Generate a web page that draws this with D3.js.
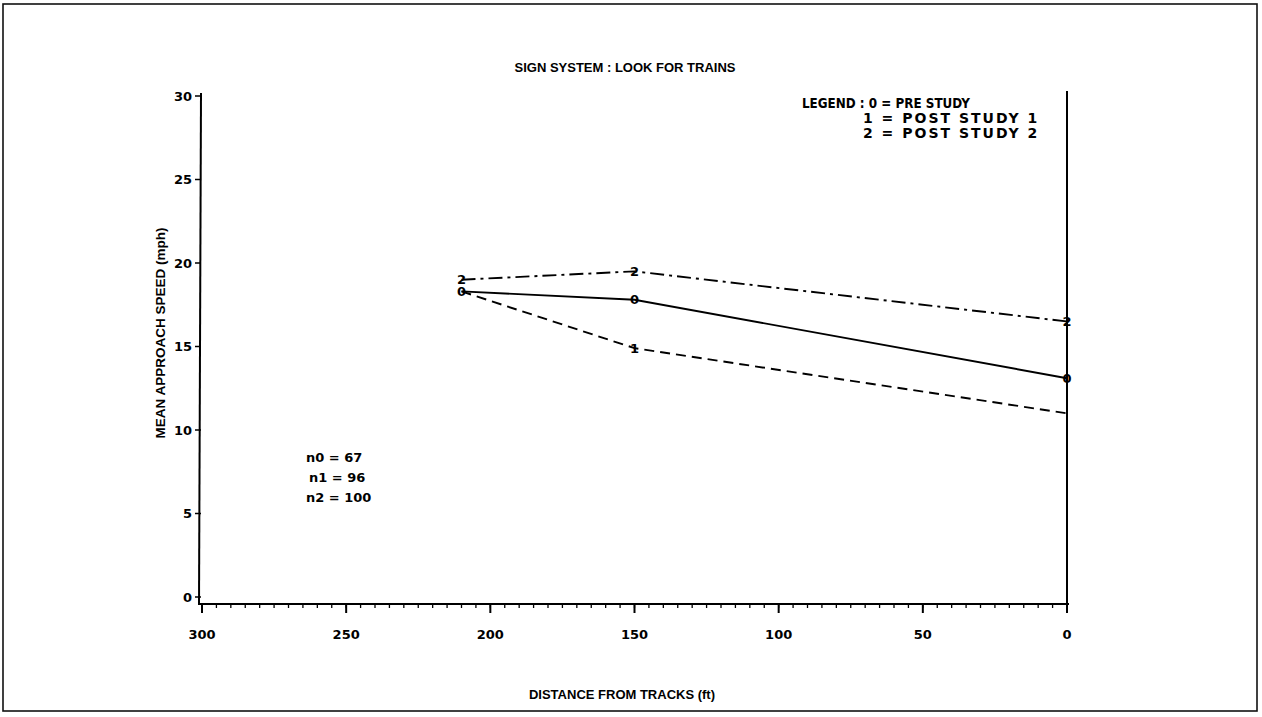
<!DOCTYPE html>
<meta charset="utf-8">
<style>
    body { margin: 0; background: #fff; }
    svg { display: block; }
    .sans { font-family: 'Liberation Sans', Arial, sans-serif; font-weight: bold; }
    .wide { font-family: 'DejaVu Sans', 'Liberation Sans', sans-serif; font-weight: bold; }
</style>
<body>
<svg width="1262" height="717" id="chart"></svg>
<script src="https://d3js.org/d3.v7.min.js"></script>
<script>

    // distances (ft) and mean approach speeds (mph) for each study
    var distances = [210, 150, 0];
    var preStudy = [18.3, 17.8, 13.1];    // 0
    var postStudy1 = [18.3, 14.9, 11.0];  // 1
    var postStudy2 = [19.0, 19.5, 16.5];  // 2

    var xTicks = [300, 250, 200, 150, 100, 50, 0];
    var yTicks = [0, 5, 10, 15, 20, 25, 30];
    var legendLines = ["LEGEND : 0 = PRE STUDY", "1 = POST STUDY 1", "2 = POST STUDY 2"];
    var sampleSizes = ["n0 = 67", "n1 = 96", "n2 = 100"];

    var series = [
        {mark: "0", values: preStudy, dash: null, hidden: []},
        {mark: "1", values: postStudy1, dash: "10,6", hidden: [210, 0]},   // covered by "0" and by the border line
        {mark: "2", values: postStudy2, dash: "14,5,3,5", hidden: []}
    ];

    var svg = d3.select("svg");

    // page frame
    svg.append("rect")
        .attr("x", 3).attr("y", 4)
        .attr("width", 1254).attr("height", 707)
        .attr("fill", "none").attr("stroke", "#111").attr("stroke-width", 1.6);

    var x = d3.scaleLinear().domain([300, 0]).range([202, 1067]);
    var y = d3.scaleLinear().domain([0, 30]).range([597, 96]);
    var axisY = 604;

    // x axis: major ticks every 50, minor every 5
    var gx = svg.append("g").attr("transform", "translate(0," + axisY + ")");
    gx.append("line")
        .attr("x1", 198).attr("x2", x(0) + 2)
        .attr("stroke", "#000").attr("stroke-width", 2);
    gx.selectAll(".minor")
        .data(d3.range(0, 301, 5))
        .enter().append("line")
        .attr("x1", x).attr("x2", x)
        .attr("y1", 0).attr("y2", 4)
        .attr("stroke", "#000").attr("stroke-width", 1.3);
    gx.selectAll(".major")
        .data(xTicks)
        .enter().append("line")
        .attr("x1", x).attr("x2", x)
        .attr("y1", 0).attr("y2", 9)
        .attr("stroke", "#000").attr("stroke-width", 2);
    gx.selectAll("text")
        .data(xTicks)
        .enter().append("text")
        .attr("class", "wide")
        .attr("x", x)
        .attr("y", 35)
        .attr("text-anchor", "middle")
        .attr("font-size", "13px")
        .text(function(d) { return d; });

    // y axis
    var gy = svg.append("g");
    gy.append("line")
        .attr("x1", 201).attr("x2", 199)
        .attr("y1", y(30) - 3).attr("y2", axisY)
        .attr("stroke", "#000").attr("stroke-width", 2);
    gy.selectAll(".tick")
        .data(yTicks)
        .enter().append("line")
        .attr("x1", 195).attr("x2", 201)
        .attr("y1", y).attr("y2", y)
        .attr("stroke", "#000").attr("stroke-width", 1.5);
    gy.selectAll("text")
        .data(yTicks)
        .enter().append("text")
        .attr("class", "wide")
        .attr("x", 192)
        .attr("y", y)
        .attr("dy", "0.36em")
        .attr("text-anchor", "end")
        .attr("font-size", "13px")
        .text(function(d) { return d; });

    // right border line at distance 0
    svg.append("line")
        .attr("x1", x(0)).attr("x2", x(0))
        .attr("y1", 91).attr("y2", axisY + 6)
        .attr("stroke", "#000").attr("stroke-width", 2);

    // series lines
    var line = d3.line()
        .x(function(d, i) { return x(distances[i]); })
        .y(function(d) { return y(d); });

    svg.append("g").selectAll("path")
        .data(series)
        .enter().append("path")
        .attr("d", function(s) { return line(s.values); })
        .attr("fill", "none")
        .attr("stroke", "#000")
        .attr("stroke-width", 1.9)
        .attr("stroke-dasharray", function(s) { return s.dash; });

    // plot symbols
    series.forEach(function(s) {
        svg.append("g").selectAll("text")
            .data(s.values.map(function(v, i) { return {v: v, d: distances[i]}; })
                .filter(function(p) { return s.hidden.indexOf(p.d) < 0; }))
            .enter().append("text")
            .attr("class", "wide")
            .attr("x", function(p) { return x(p.d); })
            .attr("y", function(p) { return y(p.v); })
            .attr("dy", "0.36em")
            .attr("text-anchor", "middle")
            .attr("font-size", "13px")
            .text(s.mark);
    });

    // title and axis labels
    svg.append("text")
        .attr("class", "sans")
        .attr("x", 625).attr("y", 72)
        .attr("text-anchor", "middle")
        .attr("font-size", "13px")
        .text("SIGN SYSTEM : LOOK FOR TRAINS");

    svg.append("text")
        .attr("class", "sans")
        .attr("x", 622).attr("y", 699)
        .attr("text-anchor", "middle")
        .attr("font-size", "13px")
        .text("DISTANCE FROM TRACKS (ft)");

    svg.append("text")
        .attr("class", "sans")
        .attr("transform", "translate(165,333) rotate(-90)")
        .attr("text-anchor", "middle")
        .attr("font-size", "13.5px")
        .text("MEAN APPROACH SPEED (mph)");

    // legend
    var legend = svg.append("g").selectAll("text")
        .data(legendLines)
        .enter().append("text")
        .attr("class", "wide")
        .attr("x", function(d, i) { return i === 0 ? 802 : 863; })
        .attr("y", function(d, i) { return 108 + i * 15; })
        .attr("font-size", "14px")
        .attr("letter-spacing", function(d, i) { return i === 0 ? 0 : 2; })
        .text(function(d) { return d; });
    legend.filter(function(d, i) { return i === 0; })
        .attr("textLength", 168)
        .attr("lengthAdjust", "spacingAndGlyphs");

    // sample sizes
    svg.append("g").selectAll("text")
        .data(sampleSizes)
        .enter().append("text")
        .attr("class", "wide")
        .attr("x", function(d, i) { return i === 1 ? 309 : 306; })
        .attr("y", function(d, i) { return 462 + i * 20; })
        .attr("font-size", "13px")
        .text(function(d) { return d; });

</script>
</body>
